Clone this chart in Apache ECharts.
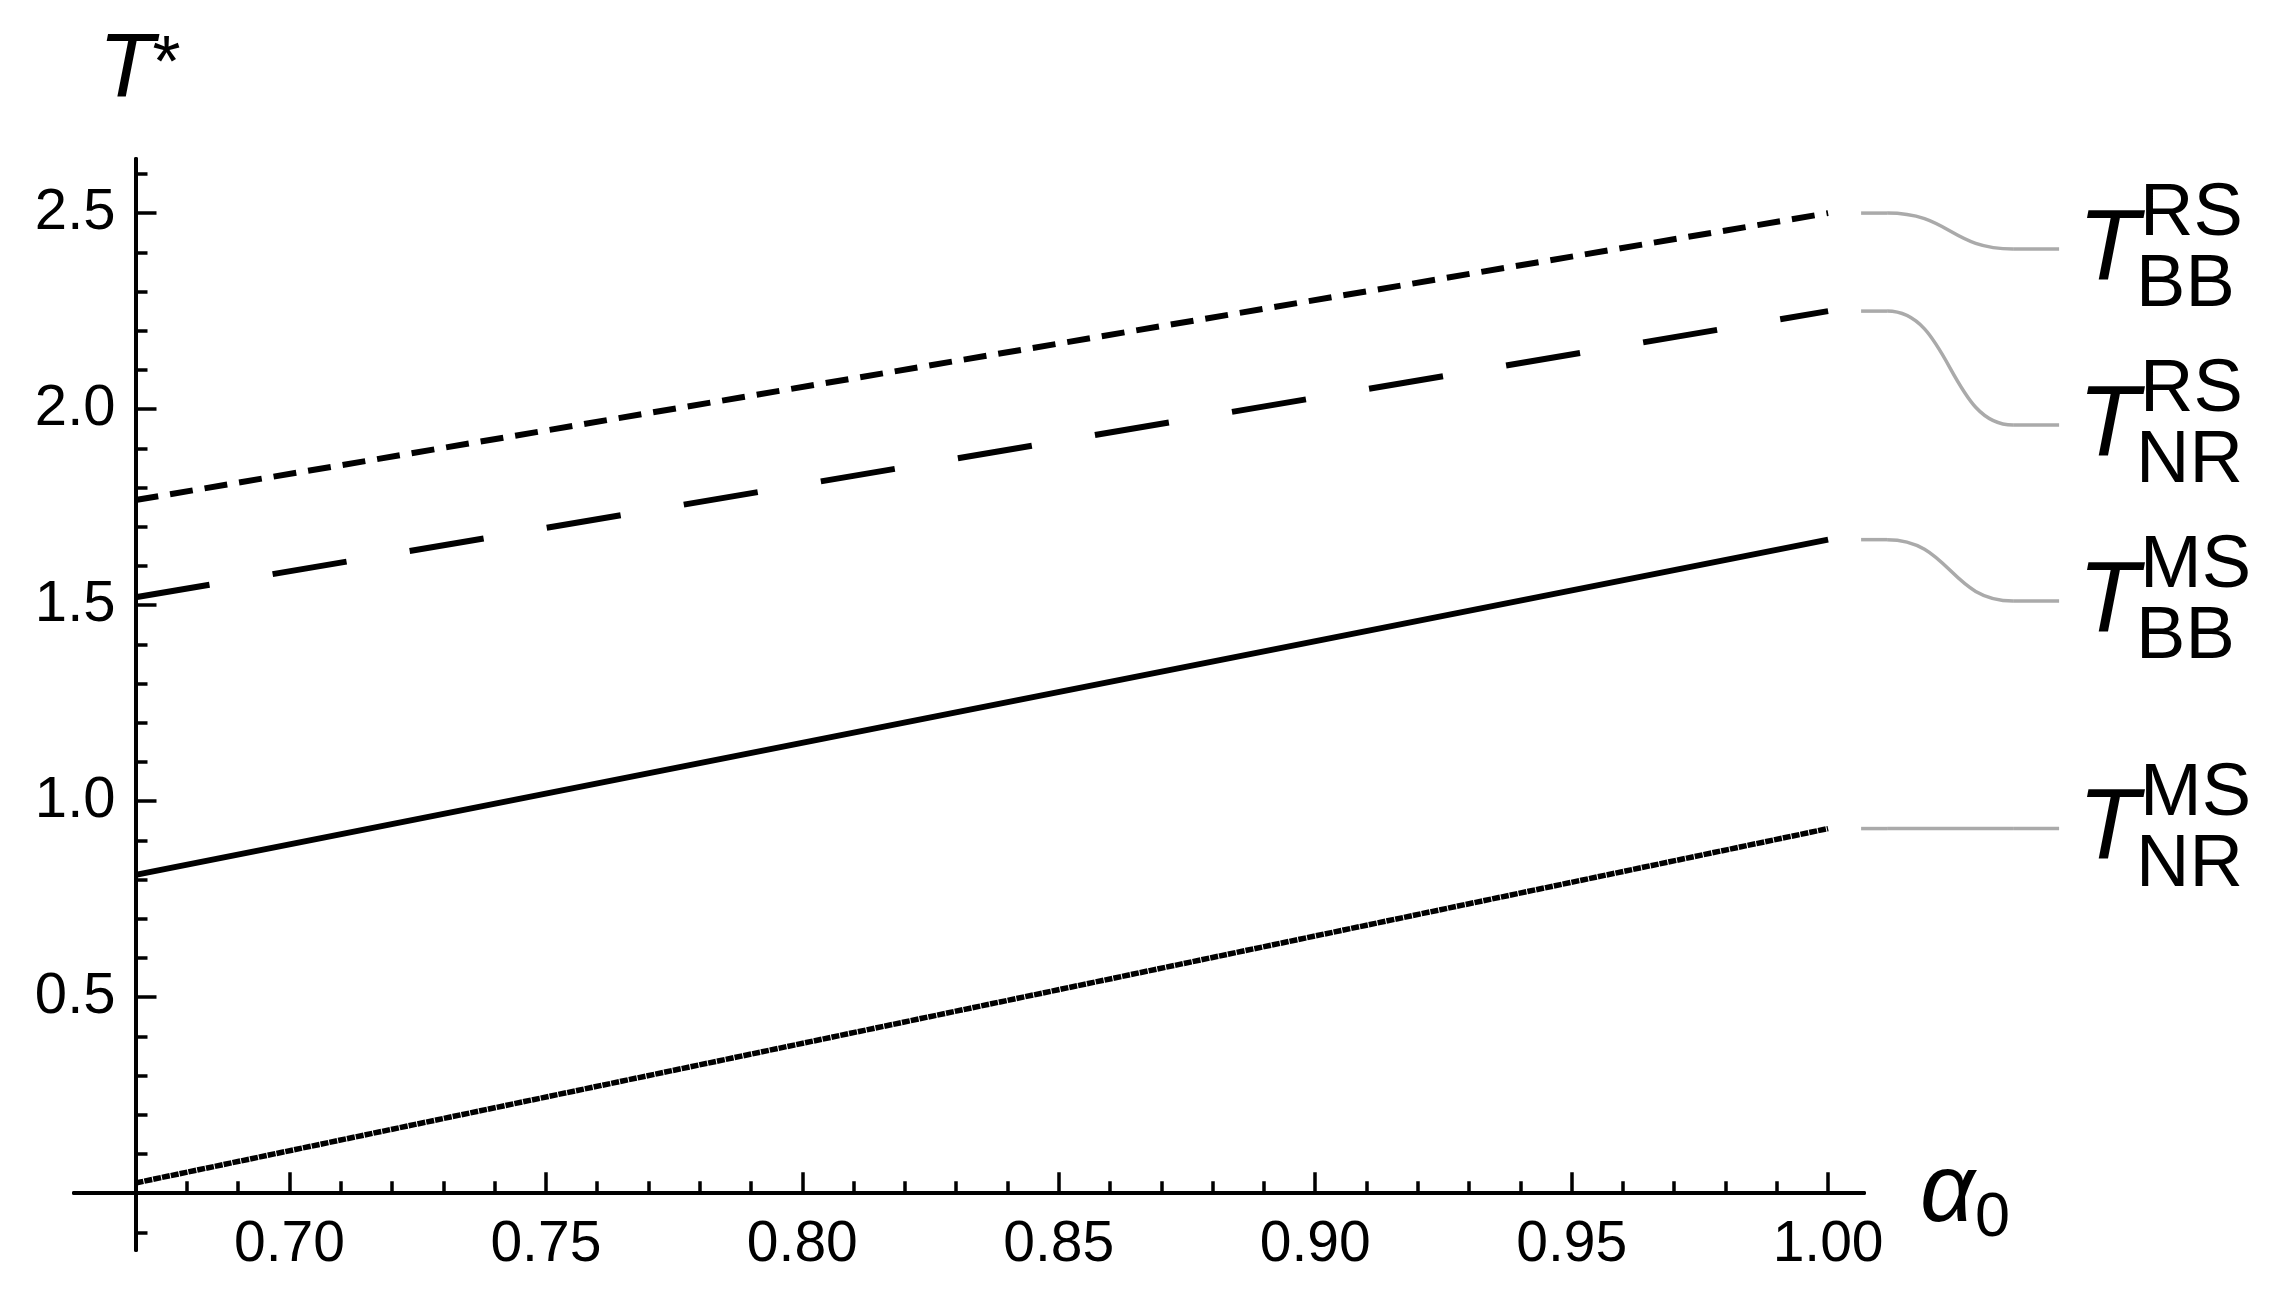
<!DOCTYPE html>
<html>
<head>
<meta charset="utf-8">
<script src="https://cdn.jsdelivr.net/npm/echarts@6/dist/echarts.min.js"></script>
<style>
  html, body { margin: 0; background: #fff; }
  #chart { width: 2286px; height: 1299px; }
</style>
</head>
<body>
<div id="chart"></div>
<script>
// data
const alpha0 = [0.67, 1.0];
const tBBRS = [1.768, 2.5];
const tNRRS = [1.52, 2.25];
const tBBMS = [0.812, 1.667];
const tNRMS = [0.026, 0.93];

const xMajorTicks = [0.70, 0.75, 0.80, 0.85, 0.90, 0.95, 1.00];
const xMinorTicks = [0.68, 0.69, 0.71, 0.72, 0.73, 0.74, 0.76, 0.77, 0.78, 0.79,
  0.81, 0.82, 0.83, 0.84, 0.86, 0.87, 0.88, 0.89, 0.91, 0.92, 0.93, 0.94,
  0.96, 0.97, 0.98, 0.99];
const yMajorTicks = [0.5, 1.0, 1.5, 2.0, 2.5];
const yMinorTicks = [-0.1, 0.1, 0.2, 0.3, 0.4, 0.6, 0.7, 0.8, 0.9, 1.1, 1.2, 1.3, 1.4,
  1.6, 1.7, 1.8, 1.9, 2.1, 2.2, 2.3, 2.4, 2.6];

const labelSup = ["RS", "RS", "MS", "MS"];
const labelSub = ["BB", "NR", "BB", "NR"];

// layout
const FONT = '"Liberation Sans", Arial, sans-serif';
const labelEndY = [249, 425, 601, 0];
const yAxisShift = 61.5;

const chart = echarts.init(document.getElementById("chart"));

function pts(ys) {
  return alpha0.map((a, i) => [a, ys[i]]);
}

function lineSeries(ys, type, width) {
  return {
    type: "line",
    data: pts(ys),
    showSymbol: false,
    silent: true,
    lineStyle: { color: "#000", width: width, type: type },
  };
}

const axisLineStyle = { color: "#000", width: 4 };
const tickStyle = { color: "#000", width: 3.5 };

chart.setOption({
  animation: false,
  grid: { left: 74, right: 422, top: 159, bottom: 49, containLabel: false, outerBoundsMode: "none" },
  xAxis: [
    {
      type: "value", min: 0.658, max: 1.007,
      axisLine: { onZero: true, lineStyle: axisLineStyle },
      axisTick: { inside: true, length: 21, lineStyle: tickStyle, customValues: xMajorTicks },
      // labels sit at the grid edge, so pull them back up under the zero line
      axisLabel: { customValues: xMajorTicks, formatter: v => v.toFixed(2), color: "#000",
        fontSize: 57, fontFamily: FONT, margin: -33 },
      splitLine: { show: false },
    },
    {
      type: "value", min: 0.658, max: 1.007, position: "bottom",
      axisLine: { onZero: true, lineStyle: axisLineStyle },
      axisTick: { inside: true, length: 12, lineStyle: tickStyle, customValues: xMinorTicks },
      axisLabel: { show: false },
      splitLine: { show: false },
    },
  ],
  yAxis: [
    {
      type: "value", min: -0.145, max: 2.638, position: "left", offset: -yAxisShift,
      axisLine: { show: true, onZero: false, lineStyle: axisLineStyle },
      axisTick: { show: true, inside: true, length: 21, lineStyle: tickStyle, customValues: yMajorTicks },
      axisLabel: { customValues: yMajorTicks, formatter: v => v.toFixed(1), color: "#000",
        fontSize: 58, fontFamily: FONT, margin: 20 },
      splitLine: { show: false },
    },
    {
      type: "value", min: -0.145, max: 2.638, position: "left", offset: -yAxisShift,
      axisLine: { show: true, onZero: false, lineStyle: axisLineStyle },
      axisTick: { show: true, inside: true, length: 12, lineStyle: tickStyle, customValues: yMinorTicks },
      axisLabel: { show: false },
      splitLine: { show: false },
    },
  ],
  series: [
    lineSeries(tBBRS, [23, 12], 6),
    lineSeries(tNRRS, [75, 64], 6),
    lineSeries(tBBMS, "solid", 6),
    lineSeries(tNRMS, [8, 1], 5.5),
  ],
});

function txt(x, y, text, font) {
  return {
    type: "text", x: x, y: y, silent: true,
    style: { text: text, font: font, fill: "#000", align: "left", verticalAlign: "middle" },
  };
}

// leaders and labels on the right, anchored to the line ends
const ends = [tBBRS, tNRRS, tBBMS, tNRMS].map(ys =>
  chart.convertToPixel({ xAxisIndex: 0, yAxisIndex: 0 }, [alpha0[1], ys[1]]));

const graphics = [];
const leader = { stroke: "#aaa", lineWidth: 3.5, fill: "none" };
ends.forEach((p, i) => {
  const x0 = p[0] + 33, y0 = p[1], y1 = labelEndY[i] || p[1];
  const xa = x0 + 26, xb = x0 + 152, x1 = x0 + 198;
  graphics.push({ type: "line", silent: true, shape: { x1: x0, y1: y0, x2: xa, y2: y0 }, style: leader });
  graphics.push({ type: "bezierCurve", silent: true,
    shape: { x1: xa, y1: y0, x2: xb, y2: y1, cpx1: xa + 63, cpy1: y0, cpx2: xb - 63, cpy2: y1 }, style: leader });
  graphics.push({ type: "line", silent: true, shape: { x1: xb, y1: y1, x2: x1, y2: y1 }, style: leader });
  graphics.push(txt(x1 + 19, y1 + 2, "T", "italic 100px " + FONT));
  graphics.push(txt(x1 + 81, y1 - 34, labelSup[i], "74px " + FONT));
  graphics.push(txt(x1 + 77, y1 + 37, labelSub[i], "74px " + FONT));
});

// axis names
const origin = chart.convertToPixel({ xAxisIndex: 0, yAxisIndex: 0 }, [alpha0[0], 0]);
graphics.push(txt(origin[0] - 37, 72, "T", "italic 91px " + FONT));
graphics.push(txt(origin[0] + 17, 66, "*", "72px " + FONT));
graphics.push(txt(1920, 1194, "\u03b1", "italic 96px " + FONT));
graphics.push(txt(1975, 1219, "0", "63px " + FONT));

chart.setOption({ graphic: graphics });
</script>
</body>
</html>
